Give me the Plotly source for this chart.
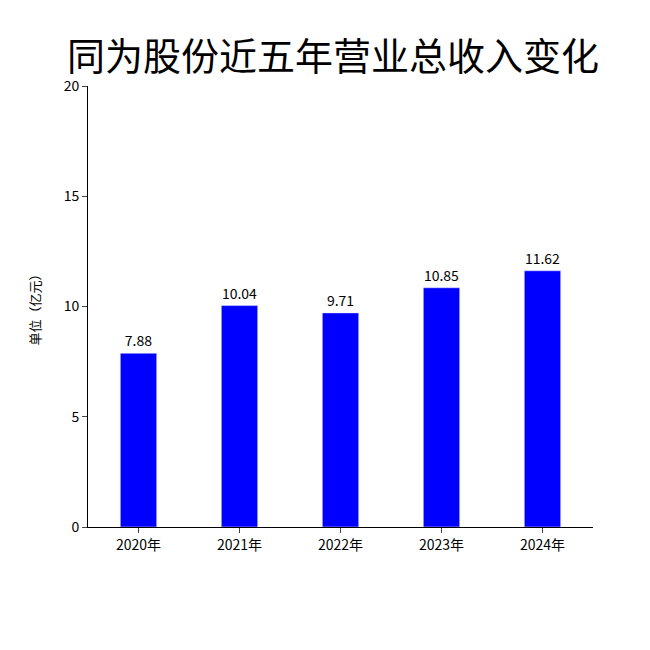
import plotly.graph_objects as go

years = ['2020年', '2021年', '2022年', '2023年', '2024年']
revenue = [7.88, 10.04, 9.71, 10.85, 11.62]
labels = ['7.88', '10.04', '9.71', '10.85', '11.62']

fig = go.Figure()
fig.add_trace(go.Bar(
    x=years, y=revenue, width=0.36,
    marker_color='#0000FF',
    text=labels, textposition='outside',
    textfont=dict(size=14, color='black'),
    cliponaxis=False,
))

fig.update_layout(
    width=650, height=650,
    paper_bgcolor='white', plot_bgcolor='white',
    font=dict(family='Noto Sans CJK SC', color='black', size=13),
    title=dict(text='同为股份近五年营业总收入变化', x=0.5, xanchor='center',
               y=0.925, yanchor='middle', font=dict(size=38), automargin=False),
    margin=dict(l=80, r=65, t=78, b=131, autoexpand=False),
    showlegend=False,
    xaxis=dict(showline=True, linecolor='black', ticks='outside', ticklen=5,
               tickfont=dict(size=14), automargin=False),
    yaxis=dict(range=[0, 20], dtick=5, showline=True, linecolor='black',
               ticks='outside', ticklen=5, showgrid=False, zeroline=False,
               tickfont=dict(size=14), automargin=False,
               title=dict(text='单位（亿元）', font=dict(size=13), standoff=20)),
)

fig.write_html('out.html')
